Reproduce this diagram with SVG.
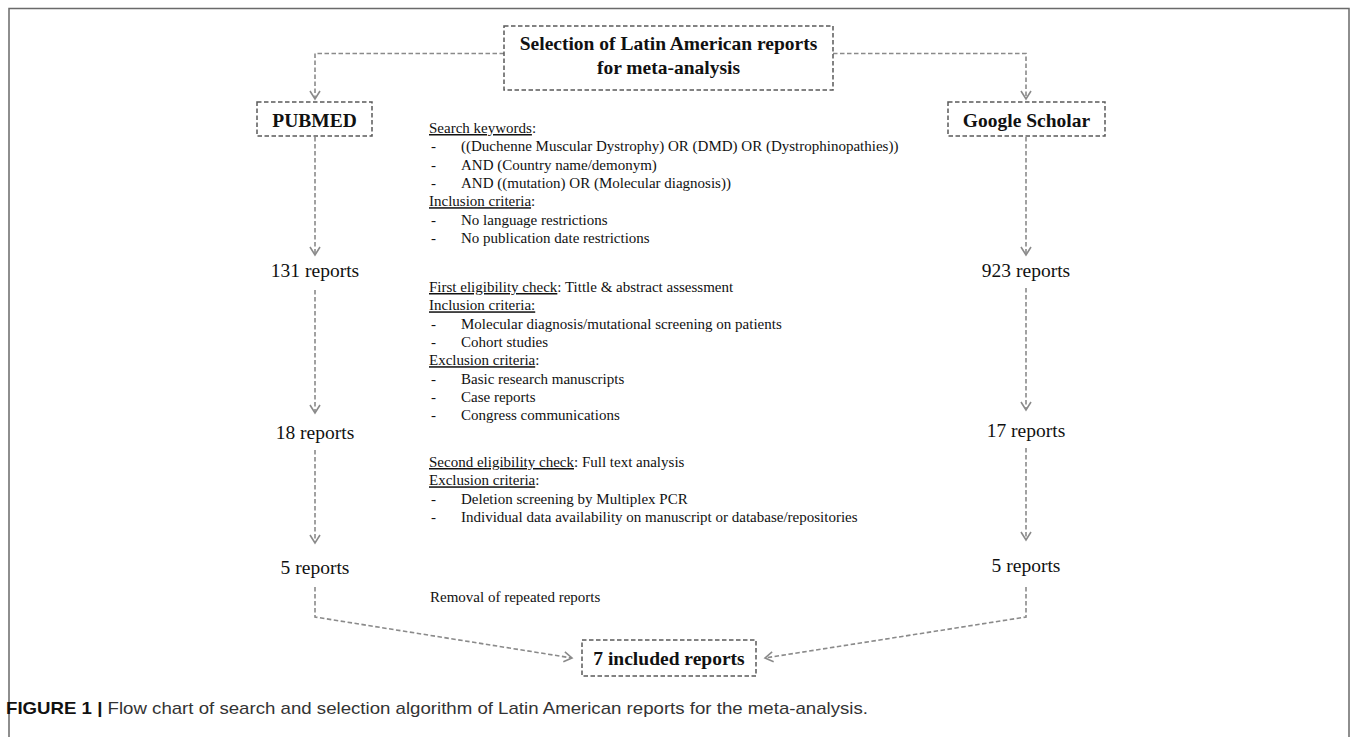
<svg xmlns="http://www.w3.org/2000/svg" width="1355" height="737" viewBox="0 0 1355 737">
<style>
.frame{fill:none;stroke:#6a6a6a;stroke-width:1.5}
.box{fill:#fff;stroke:#5a5a5a;stroke-width:1.5;stroke-dasharray:4.5 2.5}
.conn{fill:none;stroke:#8a8a8a;stroke-width:1.6;stroke-dasharray:4.5 2.5}
.title{font-family:"Liberation Serif","Times New Roman",serif;font-weight:bold;font-size:19.5px;fill:#111;text-anchor:middle}
.count{font-family:"Liberation Serif","Times New Roman",serif;font-size:19.5px;fill:#111;text-anchor:middle}
.body{font-family:"Liberation Serif","Times New Roman",serif;font-size:15px;fill:#111}
.u{text-decoration:underline}
.cap{font-family:"Liberation Sans",Arial,sans-serif;font-size:17px;fill:#333}
.capb{font-weight:bold;fill:#111}
</style>
<defs>
<marker id="arr" viewBox="-10 -7 12 14" refX="0" refY="0" markerWidth="12" markerHeight="14" markerUnits="userSpaceOnUse" orient="auto">
<path d="M-8,-5 L0,0 L-8,5" fill="none" stroke="#8a8a8a" stroke-width="1.6"/>
</marker>
</defs>
<rect width="1355" height="737" fill="#fff"/>
<path class="frame" d="M9,745 V8.5 H1349 V745"/>

<g id="connectors">
<path class="conn" d="M504,53.5 H315 V99" marker-end="url(#arr)"/>
<path class="conn" d="M833,53.5 H1026 V99" marker-end="url(#arr)"/>
<path class="conn" d="M315,137 V255" marker-end="url(#arr)"/>
<path class="conn" d="M315,290 V413" marker-end="url(#arr)"/>
<path class="conn" d="M315,450 V543" marker-end="url(#arr)"/>
<path class="conn" d="M315,587 V617 L572,658" marker-end="url(#arr)"/>
<path class="conn" d="M1026,137 V255" marker-end="url(#arr)"/>
<path class="conn" d="M1026,288 V410" marker-end="url(#arr)"/>
<path class="conn" d="M1026,448 V540" marker-end="url(#arr)"/>
<path class="conn" d="M1026,587 V617 L765,658" marker-end="url(#arr)"/>
</g>

<g id="node-selection">
<rect class="box" x="504" y="26" width="329" height="64"/>
<text class="title" x="668.5" y="50">Selection of Latin American reports</text>
<text class="title" x="668.5" y="74">for meta-analysis</text>
</g>

<g id="node-pubmed">
<rect class="box" x="257" y="102" width="115" height="34"/>
<text class="title" x="314.5" y="126.5">PUBMED</text>
</g>

<g id="node-scholar">
<rect class="box" x="948" y="102" width="157" height="34"/>
<text class="title" x="1026.5" y="126.5">Google Scholar</text>
</g>

<g id="node-pubmed-131"><text class="count" x="315" y="276.5">131 reports</text></g>
<g id="node-pubmed-18"><text class="count" x="315" y="438.5">18 reports</text></g>
<g id="node-pubmed-5"><text class="count" x="315" y="573.5">5 reports</text></g>
<g id="node-scholar-923"><text class="count" x="1026" y="276.5">923 reports</text></g>
<g id="node-scholar-17"><text class="count" x="1026" y="436.5">17 reports</text></g>
<g id="node-scholar-5"><text class="count" x="1026" y="571.5">5 reports</text></g>

<g id="node-search-criteria" class="body">
<text x="429" y="133"><tspan class="u">Search keywords</tspan>:</text>
<text y="151.3"><tspan x="431">-</tspan><tspan x="461">((Duchenne Muscular Dystrophy) OR (DMD) OR (Dystrophinopathies))</tspan></text>
<text y="169.6"><tspan x="431">-</tspan><tspan x="461">AND (Country name/demonym)</tspan></text>
<text y="187.9"><tspan x="431">-</tspan><tspan x="461">AND ((mutation) OR (Molecular diagnosis))</tspan></text>
<text x="429" y="206.2"><tspan class="u">Inclusion criteria</tspan>:</text>
<text y="224.5"><tspan x="431">-</tspan><tspan x="461">No language restrictions</tspan></text>
<text y="242.8"><tspan x="431">-</tspan><tspan x="461">No publication date restrictions</tspan></text>
</g>

<g id="node-first-check" class="body">
<text x="429" y="292"><tspan class="u">First eligibility check</tspan>: Tittle &amp; abstract assessment</text>
<text x="429" y="310.3"><tspan class="u">Inclusion criteria:</tspan></text>
<text y="328.6"><tspan x="431">-</tspan><tspan x="461">Molecular diagnosis/mutational screening on patients</tspan></text>
<text y="346.9"><tspan x="431">-</tspan><tspan x="461">Cohort studies</tspan></text>
<text x="429" y="365.2"><tspan class="u">Exclusion criteria</tspan>:</text>
<text y="383.5"><tspan x="431">-</tspan><tspan x="461">Basic research manuscripts</tspan></text>
<text y="401.8"><tspan x="431">-</tspan><tspan x="461">Case reports</tspan></text>
<text y="420.1"><tspan x="431">-</tspan><tspan x="461">Congress communications</tspan></text>
</g>

<g id="node-second-check" class="body">
<text x="429" y="467"><tspan class="u">Second eligibility check</tspan>: Full text analysis</text>
<text x="429" y="485.3"><tspan class="u">Exclusion criteria</tspan>:</text>
<text y="503.6"><tspan x="431">-</tspan><tspan x="461">Deletion screening by Multiplex PCR</tspan></text>
<text y="521.9"><tspan x="431">-</tspan><tspan x="461">Individual data availability on manuscript or database/repositories</tspan></text>
</g>

<g id="node-removal" class="body">
<text x="430" y="602">Removal of repeated reports</text>
</g>

<g id="node-included">
<rect class="box" x="582" y="640" width="174" height="36"/>
<text class="title" x="669" y="665">7 included reports</text>
</g>

<g id="caption">
<text class="cap" x="6" y="714" textLength="862" lengthAdjust="spacingAndGlyphs"><tspan class="capb">FIGURE 1 |</tspan> Flow chart of search and selection algorithm of Latin American reports for the meta-analysis.</text>
</g>
</svg>
